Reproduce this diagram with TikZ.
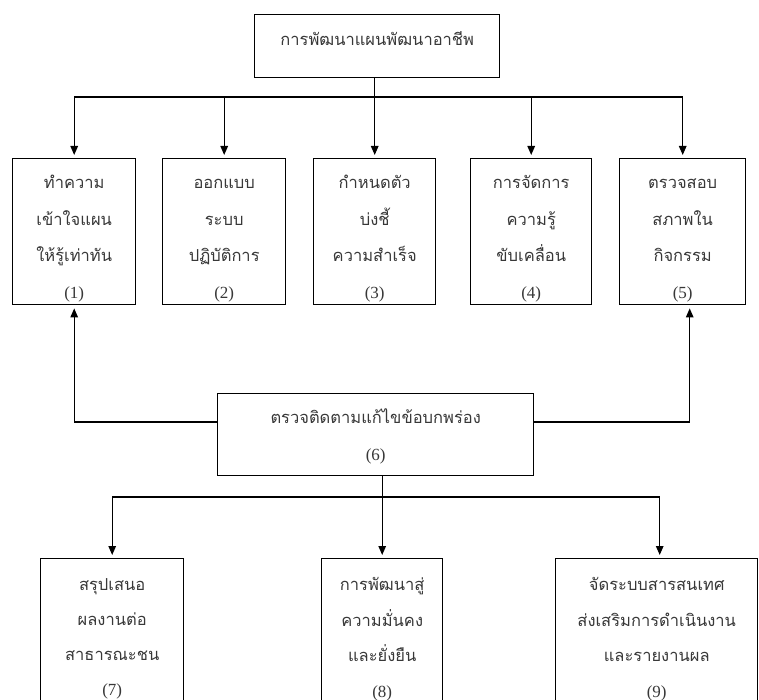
\documentclass[tikz,border=0pt]{standalone}
\usepackage{fontspec}
\setmainfont{Liberation Serif}
\newfontfamily\thaifont[Script=Thai]{Loma}
\usetikzlibrary{arrows.meta}
% #1 width, #2 height, #3 first-line strut height, #4 line distance, #5 content
\newcommand\boxtxt[5]{\parbox[c][#2][t]{#1}{\centering\baselineskip=#4\lineskiplimit=-100pt\lineskip=0pt\rule{0pt}{#3}#5\par}}
\newcommand\numtxt[1]{{\rmfamily\fontsize{17}{18}\selectfont #1}}
\tikzset{
  box/.style={draw=black, line width=1.4pt, inner sep=0pt, anchor=north west,
    text=black!78, font=\thaifont\fontsize{16.5}{36}\selectfont},
  conn/.style={draw=black, line width=1.3pt},
  arr/.style={conn, -{Triangle[width=7.5pt,length=9pt]}, shorten >=3pt}
}
\begin{document}
\begin{tikzpicture}[x=1pt,y=-1pt]
\useasboundingbox (0,0) rectangle (759,700);
\clip (0,0) rectangle (759,700);
\fill[white] (0,0) rectangle (759,700);
% boxes
\node[box] (top) at (254,14) {\boxtxt{245pt}{63pt}{31pt}{36pt}{การพัฒนาแผนพัฒนาอาชีพ}};
\node[box] (b1) at (12,158) {\boxtxt{123pt}{146pt}{30pt}{36.5pt}{ทำความ\\เข้าใจแผน\\ให้รู้เท่าทัน\\\numtxt{(1)}}};
\node[box] (b2) at (162,158) {\boxtxt{123pt}{146pt}{30pt}{36.5pt}{ออกแบบ\\ระบบ\\ปฏิบัติการ\\\numtxt{(2)}}};
\node[box] (b3) at (313,158) {\boxtxt{122pt}{146pt}{30pt}{36.5pt}{กำหนดตัว\\บ่งชี้\\ความสำเร็จ\\\numtxt{(3)}}};
\node[box] (b4) at (470,158) {\boxtxt{121pt}{146pt}{30pt}{36.5pt}{การจัดการ\\ความรู้\\ขับเคลื่อน\\\numtxt{(4)}}};
\node[box] (b5) at (619,158) {\boxtxt{126pt}{146pt}{30pt}{36.5pt}{ตรวจสอบ\\สภาพใน\\กิจกรรม\\\numtxt{(5)}}};
\node[box] (b6) at (217,393) {\boxtxt{316pt}{82pt}{30pt}{37pt}{ตรวจติดตามแก้ไขข้อบกพร่อง\\\numtxt{(6)}}};
\node[box] (b7) at (40,558) {\boxtxt{143pt}{170pt}{32pt}{35pt}{สรุปเสนอ\\ผลงานต่อ\\สาธารณะชน\\\numtxt{(7)}}};
\node[box] (b8) at (321,558) {\boxtxt{121pt}{170pt}{32pt}{35.5pt}{การพัฒนาสู่\\ความมั่นคง\\และยั่งยืน\\\numtxt{(8)}}};
\node[box] (b9) at (555,558) {\boxtxt{202pt}{170pt}{32pt}{35.5pt}{จัดระบบสารสนเทศ\\ส่งเสริมการดำเนินงาน\\และรายงานผล\\\numtxt{(9)}}};
% bus lines
\coordinate (busT) at (0,97);
\coordinate (busM) at (0,422);
\coordinate (busB) at (0,497);
% top distribution
\draw[conn] (top.south -| b3.north) -- (b3.north |- busT);
\draw[conn] (b1.north |- busT) -- (b5.north |- busT);
\foreach \b in {b1,b2,b3,b4,b5} \draw[arr] (\b.north |- busT) -- (\b.north);
% feedback from (6)
\draw[arr] (b6.west |- busM) -| (b1.south);
\draw[arr] (b6.east |- busM) -| ([xshift=7pt]b5.south);
% bottom distribution
\draw[conn] (b6.south -| b8.north) -- (b8.north |- busB);
\draw[conn] (b7.north |- busB) -- ([xshift=3pt]b9.north |- busB);
\draw[arr] (b7.north |- busB) -- (b7.north);
\draw[arr] (b8.north |- busB) -- (b8.north);
\draw[arr] ([xshift=3pt]b9.north |- busB) -- ([xshift=3pt]b9.north);
\end{tikzpicture}
\end{document}
